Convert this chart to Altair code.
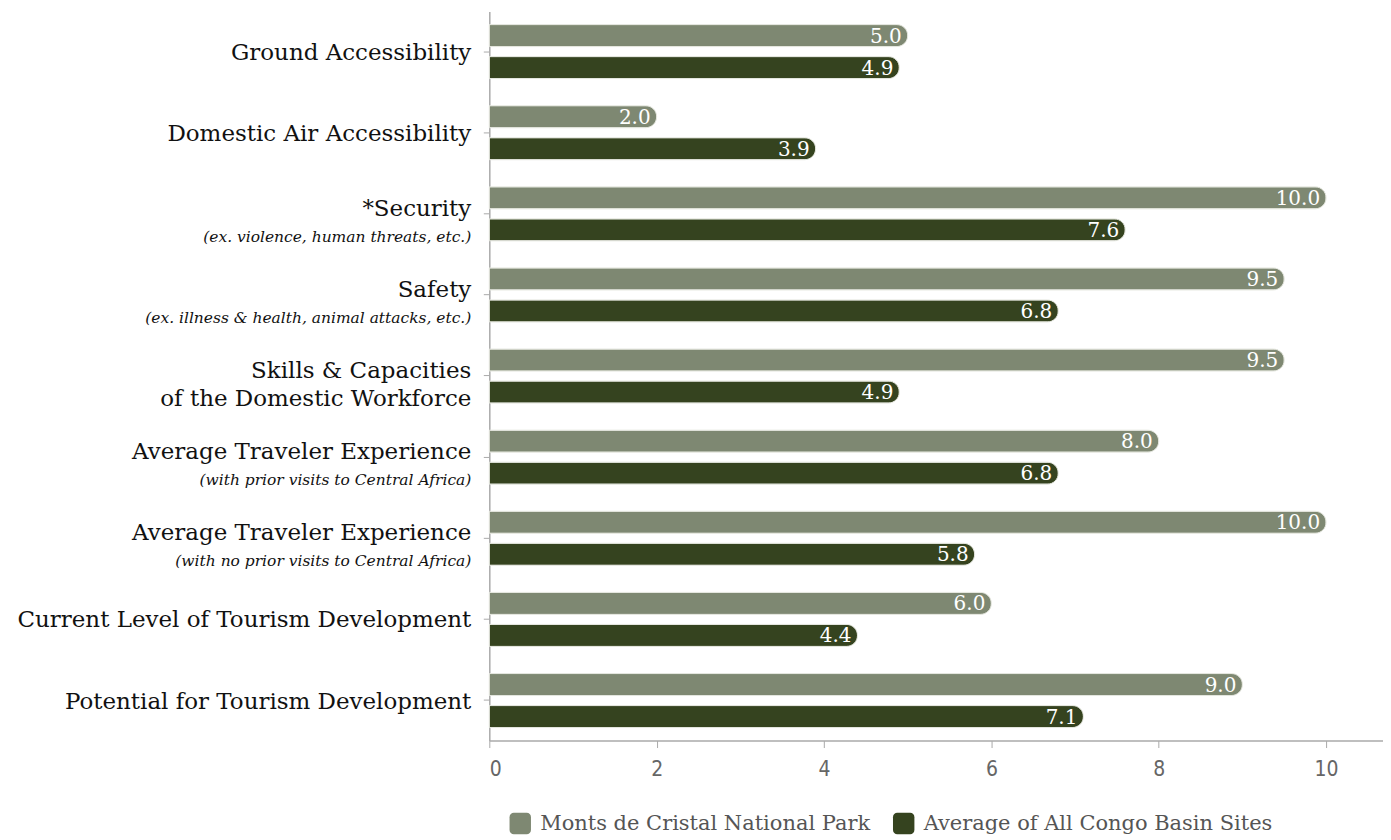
import altair as alt
import pandas as pd

main_labels = ["Ground Accessibility", "Domestic Air Accessibility", "*Security", "Safety",
               "Skills & Capacities", "Average Traveler Experience", "Average Traveler Experience",
               "Current Level of Tourism Development", "Potential for Tourism Development"]
sub_labels = ["", "", "(ex. violence, human threats, etc.)", "(ex. illness & health, animal attacks, etc.)",
              "of the Domestic Workforce", "(with prior visits to Central Africa)",
              "(with no prior visits to Central Africa)", "", ""]
sub_italic = [False, False, True, True, False, True, True, False, False]
series_names = ["Monts de Cristal National Park", "Average of All Congo Basin Sites"]
monts = [5.0, 2.0, 10.0, 9.5, 9.5, 8.0, 10.0, 6.0, 9.0]
congo = [4.9, 3.9, 7.6, 6.8, 4.9, 6.8, 5.8, 4.4, 7.1]
colors = ["#7e8872", "#35431f"]

keys = [m + " " + s for m, s in zip(main_labels, sub_labels)]

rows = []
for k, a, b in zip(keys, monts, congo):
    rows.append({"key": k, "series": series_names[0], "value": a})
    rows.append({"key": k, "series": series_names[1], "value": b})
df = pd.DataFrame(rows)

lab = pd.DataFrame({"key": keys, "main": main_labels, "sub": sub_labels,
                    "italic": sub_italic, "has_sub": [s != "" for s in sub_labels]})

SERIF = "DejaVu Serif"
yscale = alt.Scale(domain=keys, paddingInner=0.334, paddingOuter=0.16)
y_enc = alt.Y("key:N", scale=yscale,
              axis=alt.Axis(labels=False, title=None, ticks=True, tickSize=6,
                            domainColor="#aaaaaa", tickColor="#aaaaaa", domainWidth=1.5))
yoff = alt.YOffset("series:N", scale=alt.Scale(domain=series_names, paddingInner=0.3125, paddingOuter=0))
x_enc = alt.X("value:Q", scale=alt.Scale(domain=[0, 10.68], nice=False),
              axis=alt.Axis(values=[0, 2, 4, 6, 8, 10], format="d", grid=False, title=None, tickSize=7,
                            domainColor="#aaaaaa", tickColor="#aaaaaa", domainWidth=1.5,
                            labelColor="#666666", labelFontSize=21, labelPadding=11,
                            labelFont="Liberation Sans Narrow, DejaVu Sans Condensed, sans-serif"))

legend_path = ("M -0.6,-1 H 0.6 A 0.4,0.4 0 0 1 1,-0.6 V 0.6 A 0.4,0.4 0 0 1 0.6,1 "
               "H -0.6 A 0.4,0.4 0 0 1 -1,0.6 V -0.6 A 0.4,0.4 0 0 1 -0.6,-1 Z")

bars = alt.Chart(df).mark_bar(cornerRadiusEnd=11, stroke="#e4e6de", strokeWidth=1).encode(
    x=x_enc, y=y_enc, yOffset=yoff,
    color=alt.Color("series:N", scale=alt.Scale(domain=series_names, range=colors),
                    legend=alt.Legend(title=None, orient="none", direction="horizontal",
                                      legendX=20, legendY=802, symbolType=legend_path,
                                      symbolSize=460, symbolStrokeWidth=0, symbolOpacity=1,
                                      labelFont=SERIF, labelFontSize=21, labelColor="#555555",
                                      columnPadding=22, labelOffset=9, labelLimit=600)),
)

values = alt.Chart(df).mark_text(align="right", baseline="middle", dx=-6, dy=1, color="white",
                                 font=SERIF, fontSize=20).encode(
    x="value:Q", y=alt.Y("key:N", scale=yscale), yOffset=yoff,
    text=alt.Text("value:Q", format=".1f"),
)

base_lab = alt.Chart(lab)
single = base_lab.transform_filter("!datum.has_sub").mark_text(
    align="right", baseline="middle", dy=1, font=SERIF, fontSize=23, color="#111111").encode(
    x=alt.value(-18), y=alt.Y("key:N", scale=yscale), text="main:N")
main2 = base_lab.transform_filter("datum.has_sub").mark_text(
    align="right", baseline="middle", dy=-5, font=SERIF, fontSize=23, color="#111111").encode(
    x=alt.value(-18), y=alt.Y("key:N", scale=yscale), text="main:N")
sub_it = base_lab.transform_filter("datum.has_sub && datum.italic").mark_text(
    align="right", baseline="middle", dy=23, font=SERIF, fontSize=15.5, fontStyle="italic",
    color="#111111").encode(
    x=alt.value(-18), y=alt.Y("key:N", scale=yscale), text="sub:N")
sub_n = base_lab.transform_filter("datum.has_sub && !datum.italic").mark_text(
    align="right", baseline="middle", dy=23, font=SERIF, fontSize=23, color="#111111").encode(
    x=alt.value(-18), y=alt.Y("key:N", scale=yscale), text="sub:N")

chart = alt.layer(bars, values, single, main2, sub_it, sub_n).properties(
    width=895, height=730,
    autosize=alt.AutoSizeParams(type="none"),
    padding={"left": 482, "top": 3, "right": 0, "bottom": 95},
).configure_view(stroke=None)

chart.save("out.html", embed_options={"renderer": "svg", "actions": False})
